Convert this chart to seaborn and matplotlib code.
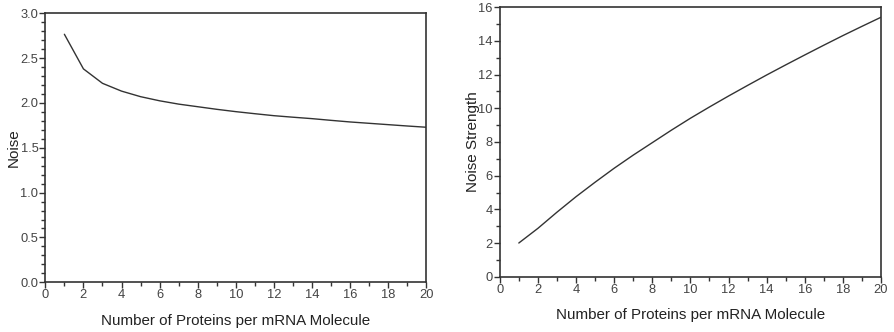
import matplotlib
matplotlib.use("Agg")
import matplotlib.pyplot as plt
from matplotlib.ticker import MultipleLocator
import seaborn as sns
import pandas as pd

proteins = list(range(1, 21))
noise = [2.766, 2.38, 2.219, 2.132, 2.07, 2.024, 1.987, 1.958, 1.929, 1.903,
         1.880, 1.858, 1.841, 1.825, 1.806, 1.788, 1.773, 1.758, 1.743, 1.729]
noise_strength = [2.0, 2.87, 3.83, 4.75, 5.61, 6.44, 7.22, 7.96, 8.70, 9.41,
                  10.08, 10.73, 11.36, 11.98, 12.58, 13.17, 13.75, 14.32, 14.87, 15.41]
x_label = "Number of Proteins per mRNA Molecule"

sns.set_style("ticks")
plt.rcParams['font.family'] = ['Liberation Sans', 'DejaVu Sans']

df = pd.DataFrame({"n": proteins, "noise": noise, "strength": noise_strength})

fig = plt.figure(figsize=(8.94, 3.32), dpi=100)
ax1 = fig.add_axes([0.0507, 0.1497, 0.4262, 0.8103])
ax2 = fig.add_axes([0.5590, 0.1666, 0.4265, 0.8114])

sns.lineplot(data=df, x="n", y="noise", ax=ax1, color="#333333", linewidth=1.0)
sns.lineplot(data=df, x="n", y="strength", ax=ax2, color="#333333", linewidth=1.0)

ax1.set_xlim(0, 20); ax1.set_ylim(0, 3.0)
ax1.xaxis.set_major_locator(MultipleLocator(2)); ax1.xaxis.set_minor_locator(MultipleLocator(1))
ax1.yaxis.set_major_locator(MultipleLocator(0.5)); ax1.yaxis.set_minor_locator(MultipleLocator(0.1))
ax1.yaxis.set_major_formatter(matplotlib.ticker.FormatStrFormatter('%.1f'))
ax1.set_ylabel("Noise", fontsize=11, labelpad=0, color="#222222")

ax2.set_xlim(0, 20); ax2.set_ylim(0, 16)
ax2.xaxis.set_major_locator(MultipleLocator(2)); ax2.xaxis.set_minor_locator(MultipleLocator(1))
ax2.yaxis.set_major_locator(MultipleLocator(2)); ax2.yaxis.set_minor_locator(MultipleLocator(1))
ax2.set_ylabel("Noise Strength", fontsize=11, labelpad=-1, color="#222222")

for ax in (ax1, ax2):
    ax.set_xlabel(x_label, fontsize=10.9, labelpad=9, color="#222222")
    for s in ax.spines.values():
        s.set_visible(True)
        s.set_linewidth(1.2)
        s.set_color("#333333")
    ax.tick_params(which="major", length=4, width=1, colors="#333333", labelsize=9.3,
                   labelcolor="#444444", pad=1)
    ax.tick_params(which="minor", length=3, width=1, colors="#333333")

fig.savefig("out.png", dpi=100)
